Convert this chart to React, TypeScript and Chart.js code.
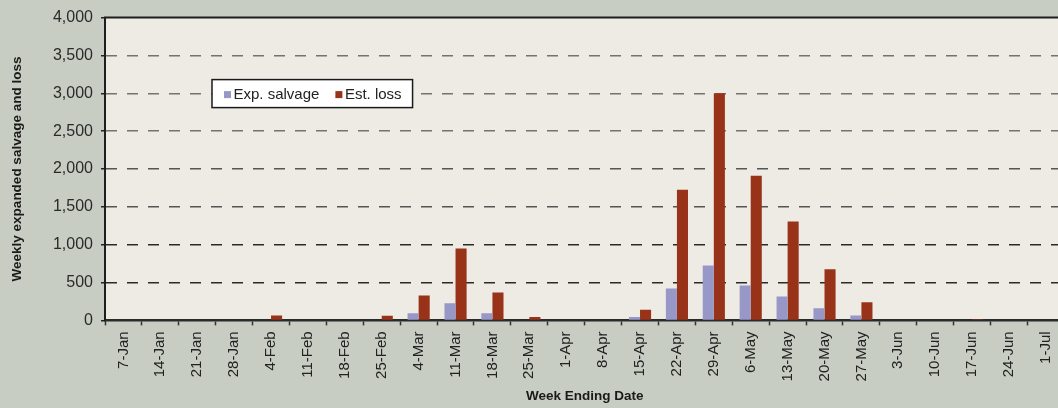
import React, { useEffect, useRef } from "react";
import { Chart, registerables } from "chart.js";

Chart.register(...registerables);

const categories = [
  "7-Jan", "14-Jan", "21-Jan", "28-Jan", "4-Feb", "11-Feb", "18-Feb", "25-Feb",
  "4-Mar", "11-Mar", "18-Mar", "25-Mar", "1-Apr", "8-Apr", "15-Apr", "22-Apr",
  "29-Apr", "6-May", "13-May", "20-May", "27-May", "3-Jun", "10-Jun", "17-Jun",
  "24-Jun", "1-Jul",
];

const expSalvage = [
  0, 0, 0, 0, 0, 0, 0, 10, 95, 225, 95, 0, 0, 0, 45, 420, 725, 460, 315, 160, 65,
  0, 0, 0, 0, 0,
];

const estLoss = [
  0, 0, 0, 0, 65, 0, 0, 60, 330, 950, 370, 45, 0, 0, 140, 1725, 3000, 1910, 1305,
  675, 240, 0, 0, 15, 0, 0,
];

const yTickValues = [0, 500, 1000, 1500, 2000, 2500, 3000, 3500, 4000];

const seriesLabels = ["Exp. salvage", "Est. loss"];
const seriesColors = ["#9797c8", "#98331a"];

const FONT = "'Liberation Sans', Arial, sans-serif";

const plotBgPlugin = {
  id: "plotBg",
  beforeDraw(chart: any) {
    const { ctx, chartArea } = chart;
    ctx.save();
    ctx.fillStyle = "#eeebe4";
    ctx.fillRect(chartArea.left, chartArea.top, chart.width - chartArea.left, chartArea.bottom - chartArea.top);
    ctx.restore();
  },
  afterDraw(chart: any) {
    const { ctx, chartArea } = chart;
    ctx.save();
    // top border
    ctx.strokeStyle = "#1e1e1e";
    ctx.lineWidth = 2;
    ctx.beginPath();
    ctx.moveTo(chartArea.left - 1, chartArea.top);
    ctx.lineTo(chart.width, chartArea.top);
    ctx.stroke();

    // legend box
    const ds = chart.data.datasets;
    const bx = chartArea.left + 107;
    const by = chartArea.top + 62;
    const bh = 28;
    ctx.font = `15px ${FONT}`;
    const marker = 7;
    const padL = 12;
    const gapMarker = 2.5;
    const gapItems = 16;
    const padR = 11;
    let w = padL;
    const widths = ds.map((d: any) => ctx.measureText(d.label).width);
    widths.forEach((tw: number, i: number) => {
      w += marker + gapMarker + tw + (i < widths.length - 1 ? gapItems : 0);
    });
    w += padR;
    ctx.fillStyle = "#ffffff";
    ctx.fillRect(bx, by, w, bh);
    ctx.strokeStyle = "#1a1a1a";
    ctx.lineWidth = 1.5;
    ctx.strokeRect(bx, by, w, bh);
    let x = bx + padL;
    const cy = by + bh / 2;
    ctx.textBaseline = "middle";
    ctx.textAlign = "left";
    ds.forEach((d: any, i: number) => {
      ctx.fillStyle = d.backgroundColor;
      ctx.fillRect(x, cy - marker / 2 + 1, marker, marker);
      x += marker + gapMarker;
      ctx.fillStyle = "#222";
      ctx.fillText(d.label, x, cy + 1);
      x += widths[i] + gapItems;
    });
    ctx.restore();
  },
};

export default function App() {
  const ref = useRef<HTMLCanvasElement | null>(null);

  useEffect(() => {
    if (!ref.current) return;
    const chart = new Chart(ref.current, {
      type: "bar",
      data: {
        labels: categories,
        datasets: [
          {
            label: seriesLabels[0],
            data: expSalvage,
            backgroundColor: seriesColors[0],
            borderWidth: 0,
            categoryPercentage: 0.6,
            barPercentage: 1,
          },
          {
            label: seriesLabels[1],
            data: estLoss,
            backgroundColor: seriesColors[1],
            borderWidth: 0,
            categoryPercentage: 0.6,
            barPercentage: 1,
          },
        ],
      },
      options: {
        animation: false,
        responsive: false,
        maintainAspectRatio: false,
        layout: { padding: { top: 16, right: 5, bottom: 0, left: 0 } },
        plugins: {
          legend: { display: false },
          tooltip: { enabled: false },
          title: { display: false },
        },
        scales: {
          x: {
            z: 1,
            grid: {
              display: true,
              drawOnChartArea: false,
              drawTicks: true,
              tickLength: 5,
              tickColor: "#333",
              tickWidth: 1.5,
              offset: true,
            },
            border: { display: true, color: "#2a2a2a", width: 2.5 },
            ticks: {
              autoSkip: false,
              minRotation: 90,
              maxRotation: 90,
              padding: 6,
              color: "#222",
              font: { family: FONT, size: 15 },
            },
            title: {
              display: true,
              text: "Week Ending Date",
              color: "#1a1a1a",
              font: { family: FONT, size: 13.5, weight: "bold" },
              padding: { top: 0, bottom: 4 },
            },
            afterFit(scale: any) {
              scale.height = 87.6;
            },
          },
          y: {
            z: 1,
            min: 0,
            max: 4000,
            afterBuildTicks(scale: any) {
              scale.ticks = yTickValues.map((v) => ({ value: v }));
            },
            grid: {
              display: true,
              drawTicks: true,
              tickLength: 4,
              tickColor: "#222",
              tickWidth: 1.5,
              tickBorderDash: [],
              lineWidth: 1.5,
              color: (c: any) => {
                const v = c.tick ? c.tick.value : 0;
                if (v === 0 || v === 4000) return "rgba(0,0,0,0)";
                if (v >= 2500) return "#737373";
                if (v >= 1500) return "#555";
                return "#2a2a2a";
              },
            },
            border: { display: true, color: "#1e1e1e", width: 2, dash: [11, 10] },
            ticks: {
              padding: 8,
              color: "#2a2a2a",
              font: { family: FONT, size: 16 },
              callback: (v: any) => Number(v).toLocaleString("en-US"),
            },
            title: {
              display: true,
              text: "Weekly expanded salvage and loss",
              color: "#1a1a1a",
              font: { family: FONT, size: 13.5, weight: "bold" },
              padding: { top: 9, bottom: 0 },
            },
            afterFit(scale: any) {
              scale.width = 105;
            },
          },
        },
      },
      plugins: [plotBgPlugin],
    });
    return () => chart.destroy();
  }, []);

  return (
    <div
      style={{
        position: "fixed",
        left: 0,
        top: 0,
        width: 1058,
        height: 408,
        overflow: "hidden",
        background: "#c7cdc3",
      }}
    >
      <canvas ref={ref} width={1070} height={408} style={{ display: "block", width: 1070, height: 408 }} />
    </div>
  );
}
